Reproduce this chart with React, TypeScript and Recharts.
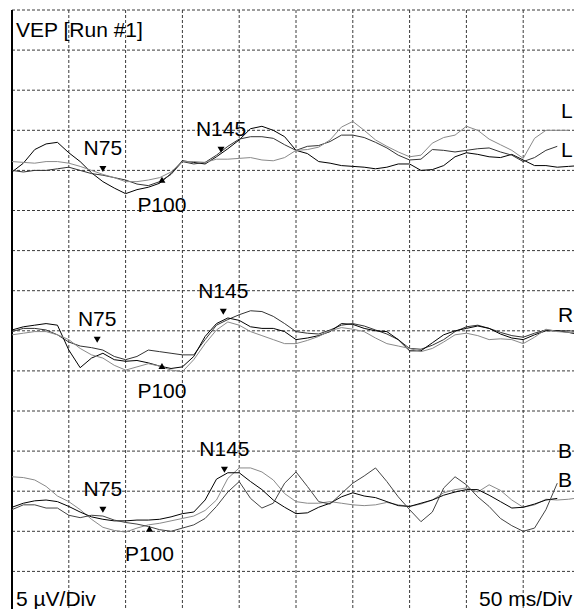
import React from 'react';
import { LineChart, Line, XAxis, YAxis, CartesianGrid, ReferenceDot, ReferenceLine } from 'recharts';

// Time axis (ms) – 50 ms/Div, 10 divisions
const TIMES_MS = [
  0, 10, 20, 30, 40, 50, 60, 70, 80, 90, 100, 110, 120, 130, 140, 150, 160, 170, 180, 190,
  200, 210, 220, 230, 240, 250, 260, 270, 280, 290, 300, 310, 320, 330, 340, 350, 360, 370, 380, 390,
  400, 410, 420, 430, 440, 450, 460, 470, 480, 490, 500,
];
const X_TICKS = [0, 50, 100, 150, 200, 250, 300, 350, 400, 450];
// Amplitude axis (µV) – 5 µV/Div, 15 divisions
const Y_TICKS = [5, 10, 15, 20, 25, 30, 35, 40, 45, 50, 55, 60, 65, 70, 75];

// Channel baselines (µV offset on the display)
const L_BASE = 55;
const R_BASE = 35;
const B_BASE = 15;

// Channel L traces (µV relative to baseline)
const L_TRACE_1 = [
  -0.2, 0.9, 2.6, 3.3, 3.5, 2.2, 1.1, -0.3, -1.4, -2.2, -2.9, -2.4, -2.1, -1.6, -0.4, 1.2, 1.0, 0.8, 1.7, 2.7,
  3.8, 5.2, 5.5, 5.0, 4.2, 2.5, 2.1, 1.1, 0.9, 0.6, 0.5, 0.4, 0.2, 0.4, 0.8, 0.8, 0.0, 0.1, 0.6, 1.7,
  2.2, 2.0, 1.7, 1.6, 2.0, 1.3, 0.6, 0.6, 0.4, 0.5, 0.6,
];
const L_TRACE_2 = [
  0.0, -0.2, 0.0, 0.0, 0.2, 0.4, 0.0, -0.4, -0.6, -0.9, -1.2, -1.7, -1.9, -1.4, -0.5, 1.1, 0.8, 1.0, 1.9, 3.0,
  3.9, 4.2, 4.2, 4.0, 3.2, 2.5, 3.0, 3.1, 3.6, 4.4, 4.4, 4.1, 3.5, 2.8, 1.9, 1.3, 1.4, 2.6, 2.5, 2.3,
  2.5, 2.7, 2.8, 2.3, 1.9, 1.1, 1.6, 2.5, 3.0, null, null,
];
const L_TRACE_3 = [
  1.1, 1.0, 0.9, 1.1, 1.1, 0.9, 0.5, 0.0, -0.5, -0.9, -1.4, -1.4, -1.2, -0.9, -0.2, 1.1, 1.1, 1.0, 1.4, 1.4,
  1.5, 1.6, 1.3, 1.2, 1.6, 2.5, 2.6, 2.9, 3.8, 5.4, 6.1, 5.0, 3.8, 3.0, 2.3, 1.7, 1.9, 3.4, 4.1, 4.4,
  5.5, 5.0, 3.9, 3.2, 2.5, 1.5, 4.0, 5.0, 5.0, 5.0, null,
];

// Channel R traces
const R_TRACE_1 = [
  -0.1, 0.3, 0.3, 0.1, -0.5, -1.4, -1.9, -2.1, -2.4, -3.2, -3.6, -3.2, -2.4, -2.6, -2.8, -3.0, -3.0, -1.1, 0.7, 1.4,
  2.0, 2.5, 2.4, 1.8, 0.9, -0.1, -0.3, -0.4, 0.1, 0.7, 0.9, 0.6, 0.1, -0.4, -1.1, -2.2, -2.3, -1.8, -1.1, -0.1,
  0.5, 0.7, 0.3, -0.2, -0.6, -0.8, -0.3, 0.1, 0.0, 0.0, -0.1,
];
const R_TRACE_2 = [
  0.1, 0.5, 0.7, 0.9, 0.7, -2.4, -4.6, -3.4, -2.8, -3.6, -3.8, -3.7, -4.0, -4.4, -4.7, -4.5, -3.2, -0.7, 0.9, 1.6,
  1.3, 0.5, 0.3, 0.3, -0.1, -1.1, -0.9, -0.6, -0.1, 0.9, 0.8, 0.3, 0.0, -0.1, -1.1, -2.5, -2.5, -1.5, -0.5, 0.0,
  0.3, 0.6, 0.3, -0.4, -0.9, -1.1, -0.5, 0.0, 0.0, -0.2, -0.5,
];
const R_TRACE_3 = [
  -0.5, -0.3, -0.1, -0.1, -0.5, -1.1, -2.2, -3.0, -3.4, -4.3, -4.9, -4.5, -4.1, -4.4, -4.9, -5.1, -3.6, -1.6, 0.1, 1.1,
  0.7, -0.1, -0.6, -1.1, -1.6, -1.6, -1.2, -0.7, 0.0, 0.4, 0.2, -0.1, -0.9, -1.6, -1.9, -2.2, -2.6, -2.2, -1.4, -0.5,
  -0.3, -0.6, -1.1, -1.0, -1.1, -1.6, -0.8, 0.2, -0.1, -0.2, -0.3,
];

// Channel B traces
const B_TRACE_1 = [
  1.8, 1.7, 1.4, 0.6, -0.6, -1.3, -2.3, -3.5, -4.5, -4.9, -5.1, -4.6, -4.2, -4.0, -3.7, -3.4, -3.1, -2.4, -1.1, 1.6,
  2.9, 2.9, 2.4, 1.4, -0.3, -1.3, -1.5, -1.5, -1.3, -1.5, -1.7, -1.8, -1.7, -1.4, -1.7, -1.9, -1.6, -1.1, -0.2, 0.2,
  0.4, -0.1, 0.8, 0.1, -1.1, -2.0, -1.7, -1.0, -1.1, -1.0, -0.8,
];
const B_TRACE_2 = [
  -2.0, -1.5, -1.2, -1.1, -1.3, -1.9, -2.6, -3.2, -3.5, -3.7, -3.7, -3.6, -3.6, -3.5, -3.2, -2.8, -2.6, -1.1, 1.5, 2.3,
  2.3, 1.2, 0.2, -1.1, -2.0, -2.8, -2.7, -2.0, -1.5, -0.7, -0.2, -0.6, -0.8, -1.3, -1.8, -1.9, -1.5, -1.1, -0.5, -0.1,
  0.2, 0.2, -0.5, -1.3, -2.1, -2.0, -1.6, -1.1, -0.9, null, null,
];
const B_TRACE_3 = [
  -2.3, -1.7, -1.7, -2.1, -2.1, -3.0, -3.3, -3.0, -3.1, -3.6, -3.9, -4.1, -4.4, -4.8, -5.0, -4.6, -4.2, -3.4, -1.9, -0.1,
  1.2, -0.9, -2.1, -1.5, 1.0, 2.4, 0.6, -1.3, -1.6, -0.3, 1.0, 1.9, 2.9, 1.2, -0.7, -2.3, -3.8, -2.6, 0.4, 1.8,
  0.8, -0.7, -1.9, -3.4, -4.3, -5.0, -4.6, -2.3, 1.0, null, null,
];

// Peak markers
const PEAK_NAMES = ['N75', 'P100', 'N145'];
const PEAK_KIND = ['N', 'P', 'N'];
const L_PEAK_MS = [80, 132, 184];
const L_PEAK_UV = [-0.2, -0.8, 2.2];
const R_PEAK_MS = [75, 132, 186];
const R_PEAK_UV = [-1.5, -4.0, 2.0];
const B_PEAK_MS = [80, 121, 187];
const B_PEAK_UV = [-2.7, -4.3, 2.3];

const FONT = '"Liberation Sans", Arial, Helvetica, sans-serif';
const FS = 21;

const shift = (base: number, v: number | null) => (v === null || v === undefined ? null : base + v);

const data = TIMES_MS.map((t, i) => ({
  t,
  l1: shift(L_BASE, L_TRACE_1[i]),
  l2: shift(L_BASE, L_TRACE_2[i]),
  l3: shift(L_BASE, L_TRACE_3[i]),
  r1: shift(R_BASE, R_TRACE_1[i]),
  r2: shift(R_BASE, R_TRACE_2[i]),
  r3: shift(R_BASE, R_TRACE_3[i]),
  b1: shift(B_BASE, B_TRACE_1[i]),
  b2: shift(B_BASE, B_TRACE_2[i]),
  b3: shift(B_BASE, B_TRACE_3[i]),
}));

const SERIES = [
  { key: 'l1', color: '#000000' },
  { key: 'l2', color: '#333333' },
  { key: 'l3', color: '#8a8a8a' },
  { key: 'r1', color: '#333333' },
  { key: 'r2', color: '#000000' },
  { key: 'r3', color: '#8a8a8a' },
  { key: 'b1', color: '#8a8a8a' },
  { key: 'b2', color: '#000000' },
  { key: 'b3', color: '#444444' },
];

const peaks = [
  { base: L_BASE, ms: L_PEAK_MS, uv: L_PEAK_UV },
  { base: R_BASE, ms: R_PEAK_MS, uv: R_PEAK_UV },
  { base: B_BASE, ms: B_PEAK_MS, uv: B_PEAK_UV },
].flatMap((ch, ci) =>
  PEAK_NAMES.map((name, pi) => ({
    id: `${ci}-${pi}`,
    name,
    kind: PEAK_KIND[pi],
    x: ch.ms[pi],
    y: ch.base + ch.uv[pi],
  }))
);

const PeakMarker = (props: any) => {
  const { cx, cy, name, kind } = props;
  if (cx == null || cy == null) return null;
  if (kind === 'N') {
    return (
      <g>
        <path d={`M${cx - 3.5},${cy - 6} L${cx + 3.5},${cy - 6} L${cx},${cy} Z`} fill="#000" />
        <text x={cx} y={cy - 17} textAnchor="middle" fontSize={FS} fontFamily={FONT} fill="#000">
          {name}
        </text>
      </g>
    );
  }
  return (
    <g>
      <path d={`M${cx - 3.5},${cy + 6} L${cx + 3.5},${cy + 6} L${cx},${cy} Z`} fill="#000" />
      <text x={cx} y={cy + 35} textAnchor="middle" fontSize={FS} fontFamily={FONT} fill="#000">
        {name}
      </text>
    </g>
  );
};

const TEXTS = [
  { s: 'VEP [Run #1]', x: 16, y: 37 },
  { s: '5 µV/Div', x: 16, y: 606 },
  { s: '50 ms/Div', x: 479, y: 606 },
  { s: 'L', x: 561, y: 118 },
  { s: 'L', x: 561, y: 157 },
  { s: 'R', x: 558, y: 322 },
  { s: 'B', x: 558, y: 458 },
  { s: 'B', x: 558, y: 487 },
];

const scaleOf = (axis: any) => {
  const s = axis && axis.scale;
  if (typeof s === 'function') return s;
  if (s && typeof s.map === 'function') return (v: number) => s.map(v);
  return null;
};

const vGen = (props: any) => {
  const sc = scaleOf(props.xAxis);
  if (sc) return X_TICKS.map((t) => sc(t));
  const { offset } = props;
  return X_TICKS.map((t) => offset.left + (t / 500) * offset.width);
};
const hGen = (props: any) => {
  const sc = scaleOf(props.yAxis);
  if (sc) return Y_TICKS.map((t) => sc(t));
  const { offset } = props;
  return Y_TICKS.map((t) => offset.top + (1 - t / 75) * offset.height);
};

export default function App() {
  return (
    <div
      style={{
        position: 'fixed',
        left: 0,
        top: 0,
        width: 574,
        height: 609,
        overflow: 'hidden',
        background: '#fff',
      }}
    >
      <div style={{ position: 'absolute', left: 0, top: 0 }}>
        <LineChart width={600} height={620} data={data} margin={{ top: 10, right: 20, bottom: 8.5, left: 12 }}>
          <CartesianGrid
            stroke="#3a3a3a"
            strokeDasharray="3 2"
            strokeWidth={1}
            fill="none"
            verticalCoordinatesGenerator={vGen}
            horizontalCoordinatesGenerator={hGen}
          />
          <XAxis
            dataKey="t"
            type="number"
            domain={[0, 500]}
            ticks={X_TICKS}
            height={0}
            axisLine={false}
            tickLine={false}
            tick={false}
          />
          <YAxis
            type="number"
            domain={[0, 75]}
            ticks={Y_TICKS}
            width={0}
            axisLine={false}
            tickLine={false}
            tick={false}
          />
          <ReferenceLine x={0} stroke="#000" strokeWidth={2} ifOverflow="visible" />
          {SERIES.map((s) => (
            <Line
              key={s.key}
              dataKey={s.key}
              type="linear"
              stroke={s.color}
              strokeWidth={1}
              dot={false}
              activeDot={false}
              isAnimationActive={false}
              connectNulls={false}
            />
          ))}
          {peaks.map((p) => (
            <ReferenceDot
              key={p.id}
              x={p.x}
              y={p.y}
              r={0}
              ifOverflow="visible"
              shape={(props: any) => <PeakMarker {...props} name={p.name} kind={p.kind} />}
            />
          ))}
        </LineChart>
      </div>
      <svg
        width={574}
        height={609}
        style={{ position: 'absolute', left: 0, top: 0, pointerEvents: 'none' }}
      >
        {TEXTS.map((t, i) => (
          <text key={i} x={t.x} y={t.y} fontSize={FS} fontFamily={FONT} fill="#000">
            {t.s}
          </text>
        ))}
      </svg>
    </div>
  );
}
